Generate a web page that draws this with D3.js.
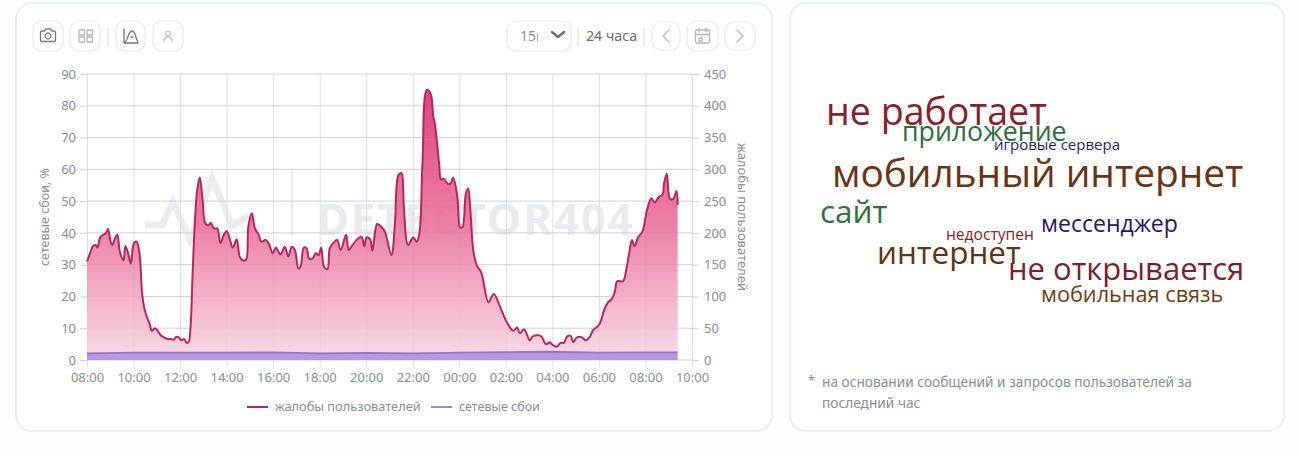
<!DOCTYPE html>
<html>
<head>
<meta charset="utf-8">
<script src="https://cdn.jsdelivr.net/npm/d3@7"></script>
<style>
  html, body { margin: 0; padding: 0; background: #fdfefe; }
  svg { display: block; }
  text { font-family: "Noto Sans", sans-serif; }
</style>
</head>
<body>
<script>
// minutes after 08:00
var complaintMinutes = [0,8,15,22,27,34,42,49,54,61,65,72,78,85,94,99,106,113,121,128,135,142,147,154,161,167,175,181,191,197,207,216,224,229,236,243,250,257,262,267,272,278,284,291,298,305,313,319,327,336,344,353,360,367,376,386,394,401,410,416,425,433,442,450,461,470,479,487,499,510,519,528,536,545,551,559,566,573,582,590,597,604,611,620,626,635,645,654,668,675,685,695,708,715,721,730,736,748,757,768,785,794,803,811,817,828,841,850,857,865,876,886,893,897,908,913,920,931,937,944,955,962,968,977,983,989,996,1005,1017,1035,1049,1065,1082,1099,1109,1116,1127,1142,1149,1163,1172,1183,1194,1198,1211,1221,1230,1238,1247,1254,1262,1275,1286,1297,1305,1320,1335,1344,1352,1361,1367,1382,1391,1398,1405,1412,1421,1432,1444,1455,1464,1475,1484,1488,1495,1503,1511,1520,1523];
var complaints = [155,168,179,181,177,193,197,200,206,186,181,191,197,170,157,179,168,152,184,186,170,105,84,68,58,46,50,47,38,36,33,33,32,36,36,31,33,27,28,52,131,215,267,287,252,215,212,216,207,207,184,197,203,193,177,190,162,157,158,210,231,207,198,186,189,181,168,177,166,178,163,178,173,144,148,177,176,159,160,168,165,177,147,143,176,184,189,173,197,173,181,189,194,179,193,190,172,214,211,202,165,215,291,294,241,181,193,186,199,309,425,419,383,372,309,284,285,277,277,287,257,209,209,262,270,231,173,149,137,91,104,84,60,46,51,42,48,31,37,39,37,25,28,25,21,27,27,37,38,28,35,36,31,37,47,55,81,91,95,107,124,124,144,168,189,179,193,202,236,254,248,257,260,278,293,254,253,266,244];

var outageMinutes = [0,120,240,360,480,600,720,840,960,1080,1200,1320,1440,1523];
var outages = [2.1,2.3,2.3,2.3,2.4,2.1,2.2,2.1,2.3,2.5,2.6,2.3,2.4,2.4];

var leftTicks = [0,10,20,30,40,50,60,70,80,90];
var rightTicks = [0,50,100,150,200,250,300,350,400,450];
var hourTicks = [0,120,240,360,480,600,720,840,960,1080,1200,1320,1440,1560];
var hourLabels = ["08:00","10:00","12:00","14:00","16:00","18:00","20:00","22:00","00:00","02:00","04:00","06:00","08:00","10:00"];

var cloudWords = ["не работает","приложение","игровые сервера","мобильный интернет","сайт","мессенджер","недоступен","интернет","не открывается","мобильная связь"];
var cloudX = [826,902,994,832,820,1041,946,877,1008,1041];
var cloudY = [125,141,150,187,223,232,240,264,280,302];
var cloudSize = [37.6,26.7,15,38.8,31.5,23.1,15.6,31.4,31,21.7];
var cloudColor = ["#86202c","#2f6b3e","#2c1a60","#6a3314","#33703a","#28175f","#7c2424","#5e3312","#7c1e30","#6e3c16"];

var width = 1300, height = 456;
var gray = "#8a8d92";

var svg = d3.select("body").append("svg").attr("width", width).attr("height", height);
var defs = svg.append("defs");

var x = d3.scaleLinear().domain([0, 1560]).range([87, 692]);
var yLeft = d3.scaleLinear().domain([0, 90]).range([360, 74]);
var yRight = d3.scaleLinear().domain([0, 450]).range([360, 74]);

var grad = defs.append("linearGradient").attr("id", "pink")
    .attr("gradientUnits", "userSpaceOnUse")
    .attr("x1", 0).attr("x2", 0).attr("y1", yRight(425)).attr("y2", yRight(0));
grad.append("stop").attr("offset", "0%").attr("stop-color", "#d8276c");
grad.append("stop").attr("offset", "50%").attr("stop-color", "#e96a99");
grad.append("stop").attr("offset", "100%").attr("stop-color", "#f9d6e4");

// cards
[[16, 3, 756, 428], [790, 3, 494, 428]].forEach(function (c) {
  svg.append("rect").attr("x", c[0]).attr("y", c[1]).attr("width", c[2]).attr("height", c[3])
    .attr("rx", 16).attr("fill", "#fff").attr("stroke", "#e6e9ea").attr("stroke-width", 1.5);
});

// toolbar buttons
[[33, 21, 30, 30], [70, 21, 30, 30], [116, 21, 29, 30], [153, 21, 30, 30], [507, 21, 64, 30], [652, 22, 28, 28], [687, 21, 31, 30], [725, 22, 30, 28]].forEach(function (b) {
  svg.append("rect").attr("x", b[0]).attr("y", b[1]).attr("width", b[2]).attr("height", b[3])
    .attr("rx", 9).attr("fill", "#fff").attr("stroke", "#e7e8ea").attr("stroke-width", 1.2);
});
[[108, 28, 46], [578, 28, 46], [644, 28, 46]].forEach(function (s) {
  svg.append("line").attr("x1", s[0]).attr("x2", s[0]).attr("y1", s[1]).attr("y2", s[2])
    .attr("stroke", "#dcdee0").attr("stroke-width", 1.2);
});

// icons
function icon(d, col, w) {
  svg.append("path").attr("d", d).attr("fill", "none").attr("stroke", col).attr("stroke-width", w || 1.3)
    .attr("stroke-linejoin", "round").attr("stroke-linecap", "round");
}
icon("M42 31h2.500l1.500-2h4.500l1.500 2h2q1.500 0 1.500 1.500v7.500q0 1.500-1.500 1.500h-12q-1.500 0-1.500-1.500v-7.500q0-1.500 1.500-1.500z M48 33a3 3 0 1 0 .01 0z", "#77797e");
icon("M79 30h5.500v5h-5.500z M87 30h5.500v5h-5.500z M79 37h5.500v5h-5.500z M87 37h5.500v5h-5.500z", "#b4b6ba");
icon("M124 29v14h14 M125 42c3-1 3-11 7-11s4 10 6 11 M131 37h2", "#6f7277");
icon("M168 31a2.500 2.500 0 1 0 .01 0z M163.500 41c.5-3 2.500-4 4.500-4s4 1 4.500 4", "#b4b6ba", 1.1);
icon("M552 32l6 5 6-5", "#6b6e73", 2.4);
icon("M669 30l-6 6 6 6", "#b4b6ba");
icon("M697 30h11q1.500 0 1.500 1.500v10q0 1.500-1.500 1.500h-11q-1.500 0-1.500-1.500v-10q0-1.500 1.500-1.500z M695.500 34.500h14 M699 28v4 M706 28v4 M699 38h3v3h-3z", "#b4b6ba");
icon("M737 30l6 6-6 6", "#b4b6ba");

svg.append("text").attr("x", 520).attr("y", 41).attr("font-size", 14).attr("fill", "#8e9196").text("15г");
svg.append("rect").attr("x", 538).attr("y", 26).attr("width", 7).attr("height", 20).attr("fill", "#fff");
svg.append("text").attr("x", 586).attr("y", 41).attr("font-size", 14.2).attr("fill", "#6b6e73").text("24 часа");

// watermark
var mark = svg.append("g").attr("fill", "none").attr("stroke", "#e9ebee");
mark.append("path").attr("stroke-width", 6.5)
  .attr("d", "M145 225h17l11-23 17 38 22-62 20 48 14-9h10");
mark.append("line").attr("stroke-width", 2).attr("x1", 292).attr("x2", 292).attr("y1", 168).attr("y2", 236);
svg.append("text").attr("x", 317).attr("y", 235).attr("font-size", 43.5).attr("font-weight", 700)
  .attr("letter-spacing", 2).attr("fill", "#e8eaed").text("DETECTOR404");

// grid and axes
var xAxis = d3.axisBottom(x).tickValues(hourTicks)
    .tickFormat(function (d, i) { return hourLabels[i]; })
    .tickSize(-293).tickPadding(6);
var leftAxis = d3.axisLeft(yLeft).tickValues(leftTicks).tickSize(7).tickPadding(4);
var rightAxis = d3.axisRight(yRight).tickValues(rightTicks).tickSize(7).tickPadding(5);

var gx = svg.append("g").attr("transform", "translate(0,367)").call(xAxis);
var gl = svg.append("g").attr("transform", "translate(87,0)").call(leftAxis);
var gr = svg.append("g").attr("transform", "translate(692,0)").call(rightAxis);
[gx, gl, gr].forEach(function (g) {
  g.select(".domain").remove();
  g.selectAll("text").attr("fill", gray).attr("font-size", 13).style("font-family", '"Noto Sans", sans-serif');
});
gx.selectAll("line").attr("stroke", "#dcdee0");
gl.selectAll("line").attr("stroke", "#cfd1d3");
gr.selectAll("line").attr("stroke", "#cfd1d3");

svg.append("g").selectAll("line").data(leftTicks).enter().append("line")
    .attr("x1", 87).attr("x2", 692)
    .attr("y1", function (d) { return yLeft(d); })
    .attr("y2", function (d) { return yLeft(d); })
    .attr("stroke", "#cfd1d3");

// complaints
var curve = d3.curveCatmullRom.alpha(0.5);
var area = d3.area()
    .x(function (d, i) { return x(complaintMinutes[i]); })
    .y0(yRight(0))
    .y1(function (d) { return yRight(d); })
    .curve(curve);
var line = d3.line()
    .x(function (d, i) { return x(complaintMinutes[i]); })
    .y(function (d) { return yRight(d); })
    .curve(curve);

svg.append("path").datum(complaints).attr("d", area).attr("fill", "url(#pink)").attr("fill-opacity", 0.86);
svg.append("path").datum(complaints).attr("d", line).attr("fill", "none").attr("stroke", "#b4265f")
    .attr("stroke-width", 2).attr("stroke-linejoin", "round");

// outages
var area2 = d3.area()
    .x(function (d, i) { return x(outageMinutes[i]); })
    .y0(yLeft(0))
    .y1(function (d) { return yLeft(d); });
var line2 = d3.line()
    .x(function (d, i) { return x(outageMinutes[i]); })
    .y(function (d) { return yLeft(d); });
svg.append("path").datum(outages).attr("d", area2).attr("fill", "#9e7fd8").attr("fill-opacity", 0.72);
svg.append("path").datum(outages).attr("d", line2).attr("fill", "none").attr("stroke", "#9b6fd2").attr("stroke-width", 1.8);

// axis titles
svg.append("text").attr("transform", "translate(49,217) rotate(-90)").attr("text-anchor", "middle")
  .attr("font-size", 12.5).attr("fill", gray).text("сетевые сбои, %");
svg.append("text").attr("transform", "translate(738,217) rotate(90)").attr("text-anchor", "middle")
  .attr("font-size", 13).attr("fill", gray).text("жалобы пользователей");

// legend
svg.append("line").attr("x1", 247).attr("x2", 268).attr("y1", 407).attr("y2", 407).attr("stroke", "#b4265f").attr("stroke-width", 2);
svg.append("text").attr("x", 275).attr("y", 411).attr("font-size", 12.8).attr("fill", gray).text("жалобы пользователей");
svg.append("line").attr("x1", 431).attr("x2", 452).attr("y1", 407).attr("y2", 407).attr("stroke", "#9a84dc").attr("stroke-width", 2);
svg.append("text").attr("x", 459).attr("y", 411).attr("font-size", 12.5).attr("fill", gray).text("сетевые сбои");

// word cloud
svg.append("g").selectAll("text").data(cloudWords).enter().append("text")
    .attr("x", function (d, i) { return cloudX[i]; })
    .attr("y", function (d, i) { return cloudY[i]; })
    .attr("font-size", function (d, i) { return cloudSize[i]; })
    .attr("fill", function (d, i) { return cloudColor[i]; })
    .style("font-family", '"Open Sans", sans-serif')
    .text(function (d) { return d; });

// footnote
svg.append("text").attr("x", 808).attr("y", 385).attr("font-size", 13).attr("fill", gray).text("*");
svg.append("text").attr("x", 822).attr("y", 387).attr("font-size", 13.7).attr("fill", gray).text("на основании сообщений и запросов пользователей за");
svg.append("text").attr("x", 822).attr("y", 408).attr("font-size", 13.7).attr("fill", gray).text("последний час");
</script>
</body>
</html>
